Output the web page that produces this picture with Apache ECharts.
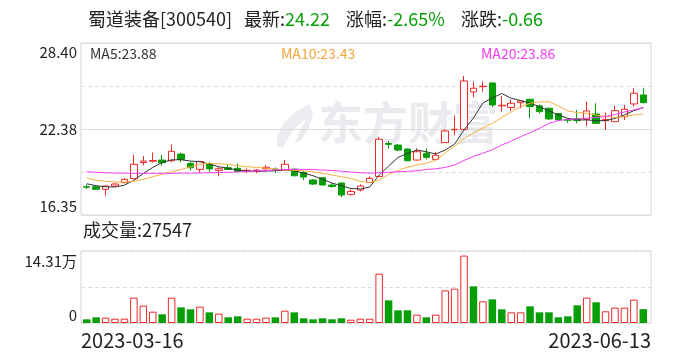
<!DOCTYPE html>
<html><head><meta charset="utf-8">
<script src="https://cdn.jsdelivr.net/npm/echarts@6/dist/echarts.min.js"></script>
<style>html,body{margin:0;padding:0;background:#fff}#c{width:688px;height:360px}</style>
</head><body><div id="c"></div>
<script>
const stockName = '蜀道装备[300540]';
const dates = ['2023-03-16','2023-03-17','2023-03-20','2023-03-21','2023-03-22','2023-03-23','2023-03-24','2023-03-27','2023-03-28','2023-03-29','2023-03-30','2023-03-31',
'2023-04-03','2023-04-04','2023-04-06','2023-04-07','2023-04-10','2023-04-11','2023-04-12','2023-04-13','2023-04-14','2023-04-17','2023-04-18','2023-04-19','2023-04-20','2023-04-21','2023-04-24','2023-04-25','2023-04-26','2023-04-27','2023-04-28',
'2023-05-04','2023-05-05','2023-05-08','2023-05-09','2023-05-10','2023-05-11','2023-05-12','2023-05-15','2023-05-16','2023-05-17','2023-05-18','2023-05-19','2023-05-22','2023-05-23','2023-05-24','2023-05-25','2023-05-26','2023-05-29','2023-05-30','2023-05-31',
'2023-06-01','2023-06-02','2023-06-05','2023-06-06','2023-06-07','2023-06-08','2023-06-09','2023-06-12','2023-06-13'];
const opens  = [18.33,18.33,18.15,18.38,18.61,18.90,20.03,20.12,20.20,20.15,20.62,19.97,19.55,19.96,19.48,19.66,19.62,19.40,19.45,19.59,19.56,19.50,19.56,19.33,18.80,18.96,18.45,18.59,17.80,18.10,18.63,19.05,21.36,21.25,20.97,20.20,20.67,20.25,21.42,22.32,22.35,24.97,25.34,25.60,24.00,23.88,24.22,24.46,23.99,23.83,23.46,23.04,23.09,23.05,23.43,22.96,22.89,23.24,24.13,24.76];
const closes = [18.30,18.15,18.38,18.52,18.85,19.90,20.13,20.17,20.01,20.81,20.24,19.66,20.10,19.58,19.59,19.54,19.40,19.48,19.50,19.69,19.52,19.90,19.10,19.01,18.52,18.45,18.35,17.75,18.00,18.38,18.91,21.66,21.30,20.90,20.15,20.78,20.39,20.53,22.24,22.35,25.74,25.23,25.37,24.06,24.04,24.18,24.34,23.95,23.59,23.08,23.01,22.99,22.97,23.64,22.77,23.05,23.66,23.76,24.88,24.22];
const lows   = [18.17,18.10,17.70,18.36,18.59,18.87,19.82,20.03,19.80,20.05,20.04,19.47,19.31,19.38,19.06,19.50,19.36,19.29,19.27,19.50,19.29,19.47,19.05,18.80,18.45,18.42,18.26,17.59,17.70,18.00,18.59,19.01,21.00,20.83,20.13,20.17,20.25,20.24,21.39,21.95,22.34,24.60,24.99,23.92,23.59,23.64,23.83,23.12,23.47,23.01,22.94,22.80,22.77,22.59,22.73,22.31,22.87,23.01,23.94,24.18];
const highs  = [18.50,18.40,18.42,18.56,18.91,20.55,20.48,20.73,20.55,21.30,20.71,20.08,20.13,20.06,19.73,19.87,19.97,19.61,19.55,19.85,19.69,20.20,19.61,19.43,18.87,19.01,18.57,18.63,18.14,18.50,19.06,21.81,21.53,21.32,21.01,21.02,21.02,20.78,22.35,23.32,26.09,25.70,25.69,25.63,24.69,24.44,24.41,24.48,24.09,23.88,23.50,23.15,23.71,24.29,24.18,23.52,24.01,24.06,25.23,25.23];
const ma5  = [18.54,18.40,18.33,18.31,18.44,18.78,19.26,19.68,20.03,20.22,20.22,20.13,20.08,19.92,19.73,19.62,19.50,19.43,19.40,19.43,19.45,19.50,19.45,19.29,19.10,18.85,18.59,18.40,18.21,18.17,18.31,19.15,19.78,20.38,20.67,20.90,20.78,20.62,20.90,21.32,22.31,23.15,24.20,24.55,24.86,24.53,24.37,24.18,23.94,23.64,23.36,23.12,23.01,23.01,22.96,22.96,23.12,23.36,23.66,23.88];
const ma10 = [18.94,18.78,18.71,18.66,18.66,18.71,18.86,19.03,19.21,19.38,19.54,19.73,19.90,19.97,19.94,19.90,19.80,19.73,19.69,19.63,19.57,19.50,19.48,19.45,19.38,19.27,19.15,19.03,18.91,18.70,18.63,18.80,19.19,19.47,19.70,19.85,19.99,20.18,20.69,21.18,21.71,22.09,22.45,22.77,23.18,23.57,23.94,24.18,24.27,24.29,23.99,23.64,23.52,23.48,23.36,23.24,23.19,23.25,23.36,23.43];
const ma20 = [19.38,19.34,19.31,19.29,19.28,19.27,19.27,19.27,19.27,19.27,19.28,19.29,19.29,19.31,19.32,19.34,19.36,19.40,19.43,19.47,19.50,19.54,19.55,19.55,19.54,19.50,19.47,19.42,19.36,19.31,19.28,19.31,19.34,19.38,19.41,19.45,19.54,19.59,19.68,19.85,20.17,20.45,20.68,20.92,21.25,21.53,21.84,22.12,22.42,22.77,22.97,23.04,23.08,23.13,23.18,23.25,23.39,23.57,23.71,23.86];
const volumes = [7300,11300,10600,8600,8600,50400,34500,22500,17200,50400,31100,27200,32500,21200,18600,11300,13300,8600,8600,10600,11300,24500,21200,9300,7300,9300,7300,9300,6600,8600,8600,98000,45000,25200,25200,16600,11300,16600,64900,68200,134000,72900,43100,47000,27200,21200,21200,33100,21200,21200,11300,13300,35100,50400,41100,23200,30500,30500,46400,27547];
const priceTicks = ['16.35','22.38','28.40'];
const volTicks = ['0','','14.31万'];

const RED = '#f02828', GREEN = '#089e08', TXT = '#222';
const FONT = '"Noto Sans CJK SC","Noto Sans",sans-serif';
const pMin = parseFloat(priceTicks[0]), pMax = parseFloat(priceTicks[2]);
const vMax = parseFloat(volTicks[2]) * 10000;
const last = closes.length - 1;
const chg = closes[last] - closes[last - 1];
const pct = chg / closes[last - 1] * 100;
const fmt = (v) => (v > 0 ? '+' : '') + v.toFixed(2);

const candleData = dates.map((d, i) => [opens[i], closes[i], lows[i], highs[i]]);
const volData = volumes.map((v, i) => {
  const up = i === 0 ? closes[i] >= opens[i] : closes[i] >= closes[i - 1];
  return { value: v, itemStyle: up ? { color: '#fff', borderColor: RED, borderWidth: 1 } : { color: GREEN, borderColor: GREEN, borderWidth: 0 } };
});

const frameBorder = { show: true, borderColor: '#d4d4da', borderWidth: 1, backgroundColor: 'transparent' };
const TS = 18;
const gc = chg < 0 ? GREEN : RED;

const chart = echarts.init(document.getElementById('c'), null, { renderer: 'canvas' });
chart.setOption({
  animation: false,
  textStyle: { fontFamily: FONT },
  title: [
    { left: 88, top: 10, padding: 0,
      text: '{n|' + stockName + '}{s|}{n|最新:}{g|' + closes[last].toFixed(2) + '}{s2|}{n|涨幅:}{g|' + fmt(pct) + '%}{s2|}{n|涨跌:}{g|' + fmt(chg) + '}',
      textStyle: { fontSize: TS, fontWeight: 'normal', fontFamily: FONT,
        rich: { n: { fontSize: TS, color: TXT, fontFamily: FONT }, g: { fontSize: TS, color: gc, fontFamily: FONT },
                s: { width: 12 }, s2: { width: 16 } } } },
    { left: 90, top: 47, padding: 0, text: 'MA5:' + ma5[last].toFixed(2), textStyle: { fontSize: 14, fontWeight: 'normal', color: '#333', fontFamily: FONT } },
    { left: 281, top: 47, padding: 0, text: 'MA10:' + ma10[last].toFixed(2), textStyle: { fontSize: 14, fontWeight: 'normal', color: '#f5a53a', fontFamily: FONT } },
    { left: 481, top: 47, padding: 0, text: 'MA20:' + ma20[last].toFixed(2), textStyle: { fontSize: 14, fontWeight: 'normal', color: '#f03cf0', fontFamily: FONT } },
    { left: 83, top: 221, padding: 0, text: '成交量:' + volumes[last], textStyle: { fontSize: 18, fontWeight: 'normal', color: TXT, fontFamily: FONT } }
  ],
  graphic: [
    { type: 'polygon', z: -10, silent: true, left: 277, top: 104,
      shape: { points: [[36, 0], [22, 8], [10, 20], [4, 32], [4, 42], [10, 44], [14, 36], [22, 24], [34, 14], [26, 28], [22, 40], [28, 36], [36, 24], [40, 10]] },
      style: { fill: '#ececf0' } },
    { type: 'text', left: 318, top: 100, z: -10, silent: true,
      style: { text: '东方财富', fontSize: 45, fontWeight: 'bold', fill: '#ebebef', fontFamily: FONT } }
  ],
  grid: [
    Object.assign({ left: 81, top: 43, width: 570, height: 172 }, frameBorder),
    { left: 82, top: 43, width: 566, height: 172, show: false },
    Object.assign({ left: 81, top: 251, width: 570, height: 72 }, frameBorder),
    { left: 82, top: 251, width: 566, height: 72, show: false }
  ],
  xAxis: [
    { type: 'value', gridIndex: 0, min: 0, max: 1, show: false },
    { type: 'category', gridIndex: 1, data: dates, boundaryGap: true, show: false },
    { type: 'value', gridIndex: 2, min: 0, max: 1, interval: 1,
      axisLine: { show: false }, axisTick: { show: false }, splitLine: { show: false },
      axisLabel: { show: true, margin: 7, fontSize: 20, color: TXT, fontFamily: FONT,
        alignMinLabel: 'left', alignMaxLabel: 'right',
        formatter: (v) => v === 0 ? dates[0] : dates[last] } },
    { type: 'category', gridIndex: 3, data: dates, boundaryGap: true, show: false }
  ],
  yAxis: [
    { type: 'value', gridIndex: 0, position: 'left', min: pMin, max: pMax, interval: (pMax - pMin) / 4,
      axisLine: { show: false }, axisTick: { show: false }, axisLabel: { show: false },
      splitLine: { show: true, lineStyle: { color: '#dcdcdc', type: [4, 3], width: 1 } } },
    { type: 'value', gridIndex: 0, position: 'left', min: pMin, max: pMax, interval: (pMax - pMin) / 2,
      axisLine: { show: false }, axisTick: { show: false },
      splitLine: { show: true, lineStyle: { color: '#dcdcdc', type: 'solid', width: 1 } },
      axisLabel: { show: true, margin: 4, fontSize: 15, color: TXT, fontFamily: FONT,
        formatter: (v) => {
          const k = Math.round((v - pMin) / ((pMax - pMin) / 2));
          const s = priceTicks[k];
          return k === 2 ? '{t|' + s + '}' : k === 0 ? '{b|' + s + '}' : '{m|' + s + '}';
        },
        rich: { t: { fontSize: 15, color: TXT, fontFamily: FONT, padding: [18, 0, 0, 0] },
                b: { fontSize: 15, color: TXT, fontFamily: FONT, padding: [0, 0, 18, 0] },
                m: { fontSize: 15, color: TXT, fontFamily: FONT } } } },
    { type: 'value', gridIndex: 1, min: pMin, max: pMax, show: false, splitLine: { show: false } },
    { type: 'value', gridIndex: 2, position: 'left', min: 0, max: vMax, interval: vMax / 2,
      axisLine: { show: false }, axisTick: { show: false },
      splitLine: { show: true, lineStyle: { color: '#dcdcdc', type: [4, 3], width: 1 } },
      axisLabel: { show: true, margin: 4, fontSize: 15, color: TXT, fontFamily: FONT,
        formatter: (v) => {
          const k = Math.round(v / (vMax / 2));
          const s = volTicks[k];
          if (!s) return '';
          return k === 2 ? '{t|' + s + '}' : '{b|' + s + '}';
        },
        rich: { t: { fontSize: 15, color: TXT, fontFamily: FONT, padding: [20, 0, 0, 0] },
                b: { fontSize: 15, color: TXT, fontFamily: FONT, padding: [0, 0, 16, 0] } } } },
    { type: 'value', gridIndex: 3, min: 0, max: vMax, show: false, splitLine: { show: false } }
  ],
  series: [
    { type: 'candlestick', xAxisIndex: 1, yAxisIndex: 2, data: candleData, barWidth: 7, z: 3,
      itemStyle: { color: '#fff', color0: GREEN, borderColor: RED, borderColor0: GREEN, borderWidth: 1 } },
    { type: 'line', xAxisIndex: 1, yAxisIndex: 2, data: ma5, showSymbol: false, symbol: 'none', z: 4,
      lineStyle: { color: '#333', width: 1 } },
    { type: 'line', xAxisIndex: 1, yAxisIndex: 2, data: ma10, showSymbol: false, symbol: 'none', z: 4,
      lineStyle: { color: '#f7b03c', width: 1 } },
    { type: 'line', xAxisIndex: 1, yAxisIndex: 2, data: ma20, showSymbol: false, symbol: 'none', z: 4,
      lineStyle: { color: '#f53cf5', width: 1 } },
    { type: 'bar', xAxisIndex: 3, yAxisIndex: 4, data: volData, barWidth: 7.5 }
  ]
});
</script></body></html>
